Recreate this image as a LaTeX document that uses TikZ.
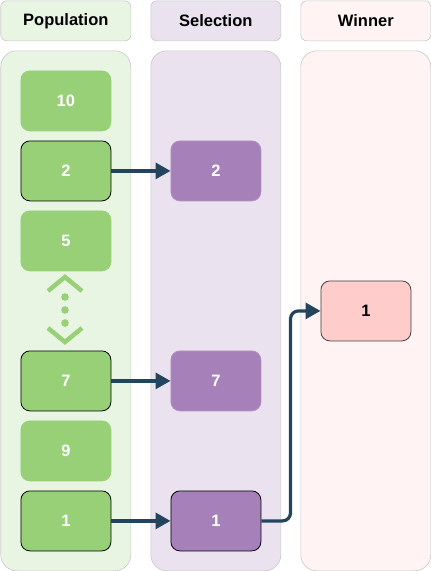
\documentclass[tikz,border=0pt]{standalone}
\usepackage{fontspec}
\setmainfont{Liberation Sans}
\usetikzlibrary{arrows.meta}
\definecolor{popcol}{HTML}{E9F5E3}
\definecolor{popbox}{HTML}{97D077}
\definecolor{selcol}{HTML}{EAE2EF}
\definecolor{selbox}{HTML}{A680B8}
\definecolor{wincol}{HTML}{FFF4F3}
\definecolor{winbox}{HTML}{FFCCCC}
\definecolor{arrowc}{HTML}{23445D}
\definecolor{colborder}{HTML}{C8C8C8}
\tikzset{
  hdr/.style={draw=colborder, line width=0.6pt, rounded corners=6pt, minimum width=130pt, minimum height=40pt, inner sep=0pt, font=\fontsize{16.5}{19}\selectfont\bfseries, anchor=north west},
  lane/.style={draw=colborder, line width=0.6pt, rounded corners=16pt, minimum width=130pt, minimum height=520pt, inner sep=0pt, anchor=north west},
  item/.style={rounded corners=9pt, minimum width=90pt, minimum height=60pt, inner sep=0pt, anchor=north west, font=\fontsize{16.5}{19}\selectfont\bfseries, text=white, line width=0.8pt},
  gbox/.style={item, fill=popbox, draw=popbox},
  gboxb/.style={item, fill=popbox, draw=black},
  pbox/.style={item, fill=selbox, draw=selbox!85!white},
  pboxb/.style={item, fill=selbox, draw=black},
  wbox/.style={item, fill=winbox, draw=black!75, text=black},
  conn/.style={draw=arrowc, line width=3.2pt, -{Triangle[length=15pt,width=16pt]}, rounded corners=8pt},
  chev/.style={draw=popbox, line width=4.5pt},
}
\begin{document}
\begin{tikzpicture}[x=1pt,y=-1pt]
\useasboundingbox (0,0) rectangle (431,571);
% headers
\node[hdr, fill=popcol] (hpop) at (0.5,0.5) {Population};
\node[hdr, fill=selcol] (hsel) at (150.5,0.5) {Selection};
\node[hdr, fill=wincol] (hwin) at (300.5,0.5) {Winner};
% lanes
\node[lane, fill=popcol] (lpop) at (0.5,50.5) {};
\node[lane, fill=selcol] (lsel) at (150.5,50.5) {};
\node[lane, fill=wincol] (lwin) at (300.5,50.5) {};
% population
\node[gbox] (g10) at (20.5,70.5) {10};
\node[gboxb] (g2) at (20.5,140.5) {2};
\node[gbox] (g5) at (20.5,210.5) {5};
\node[gboxb] (g7) at (20.5,350.5) {7};
\node[gbox] (g9) at (20.5,420.5) {9};
\node[gboxb] (g1) at (20.5,490.5) {1};
% dots / chevrons
\draw[chev] (48,291) -- (65,277) -- (82,291);
\draw[chev] (48,328) -- (65,342) -- (82,328);
\fill[popbox] (65,297) circle (3.8pt) (65,310) circle (3.8pt) (65,323) circle (3.8pt);
% selection
\node[pbox] (s2) at (170.5,140.5) {2};
\node[pbox] (s7) at (170.5,350.5) {7};
\node[pboxb] (s1) at (170.5,490.5) {1};
% winner
\node[wbox] (w1) at (320.5,280.5) {1};
% connectors
\draw[conn] (g2.east) -- (s2.west);
\draw[conn] (g7.east) -- (s7.west);
\draw[conn] (g1.east) -- (s1.west);
\coordinate (bend) at (290.5,0);
\draw[conn] (s1.east) -| (bend |- w1.west) -- (w1.west);
\end{tikzpicture}
\end{document}
